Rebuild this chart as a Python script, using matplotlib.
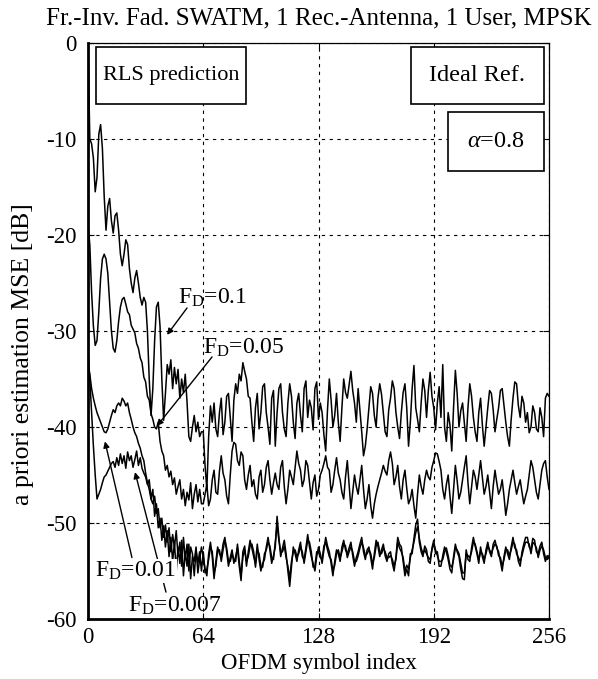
import numpy as np
import matplotlib
matplotlib.use("Agg")
import matplotlib.pyplot as plt
from matplotlib.patches import Rectangle

plt.rcParams['font.family'] = ['Liberation Serif', 'DejaVu Serif']
plt.rcParams['mathtext.fontset'] = 'custom'
plt.rcParams['mathtext.rm'] = 'Liberation Serif'
plt.rcParams['mathtext.it'] = 'Liberation Serif:italic'
plt.rcParams['axes.unicode_minus'] = False

# ---------------- data ----------------
x_early = np.arange(0, 64)          # symbols 0..63
x_late = np.arange(64, 257)         # symbols 64..256

fd01_early = [0, -10, -10.5, -12, -15.5, -14, -9.5, -8.5, -11, -16,
              -19.5, -17, -16.2, -18.5, -19.8, -18, -17.7, -19.5, -22, -23.2,
              -22, -20.5, -21, -23.5, -25, -26, -24.5, -23.7, -25, -26.5,
              -27.3, -26.5, -27, -30, -35, -38.8, -36, -31, -27.5, -27,
              -29.5, -35, -39.3, -36.5, -33.5, -34.5, -33, -36, -33.8, -35.5,
              -34, -37, -35, -36.4, -34.5, -37.4, -41, -41.5, -40, -38.8,
              -40.5, -39.5, -41, -40.5]
fd01_late = [-40.5, -44, -46.5, -41, -37.8, -39.5, -37.5, -40.2, -41, -38.5,
             -37, -40.8, -39.5, -36.8, -36.5, -39, -41.5, -37.2, -35.5, -36.5,
             -34.5, -35.2, -33.3, -34.2, -35, -36.8, -37, -39.5, -41.5, -38,
             -36.5, -40.2, -38.5, -35.8, -35.5, -38.5, -40, -41.8, -37, -36.2,
             -42, -38.5, -36, -35.5, -38.5, -40.2, -41, -37.5, -35.5, -36.8,
             -39.5, -41.2, -37.5, -36.5, -38.8, -40.5, -36, -35.2, -39, -37.2,
             -38, -40.3, -36, -35.3, -39.2, -37.5, -38.5, -40.8, -42.5, -38.2,
             -35, -37.2, -40, -38.8, -36.5, -39.5, -41.5, -38, -35, -36.4,
             -37, -35.6, -34.2, -36.2, -37.5, -39.5, -36, -38.2, -40.5, -43,
             -42, -40.2, -38, -35.8, -36.5, -38.8, -40, -37, -35.5, -36.6,
             -38.5, -40.5, -41, -38.2, -37, -35.2, -36, -38.5, -40, -41.2,
             -38.5, -36.4, -35.5, -38, -42, -39.5, -36, -33.6, -38, -39.2,
             -40.5, -37.5, -35, -36.2, -39, -36.2, -34.3, -36.8, -38, -40.3,
             -37.5, -35.8, -39, -33.5, -40, -41.5, -38.5, -39.8, -42.5, -38,
             -34.1, -36.5, -40, -38.3, -37.5, -39.6, -41.5, -38, -35.5, -36.8,
             -39, -40.5, -41.5, -38.5, -37, -39.8, -42, -40, -38, -36.2,
             -36.5, -38.2, -40.5, -39.2, -38, -36.2, -36, -37.8, -39.5, -41,
             -42, -39.2, -37, -35.3, -35.5, -37.8, -39, -36.8, -37.5, -39.5,
             -38.5, -40.6, -40, -37.8, -38.5, -40.2, -40.5, -38, -39, -41,
             -37, -36.5, -36.8]

fd005_early = [-19, -21, -26, -29.5, -31.5, -31, -28, -24.5, -22.5, -22,
               -22.5, -24, -27, -30, -31.8, -32.2, -31, -29, -27.5, -26.7,
               -26.5, -27.2, -28, -28.3, -29.4, -29.8, -30.2, -31.3, -31.8, -32.8,
               -33.3, -34.8, -35.3, -36.8, -37.2, -38.6, -39.2, -40, -40.2, -39.5,
               -41.5, -42.5, -43, -44.5, -44, -45.2, -44.6, -46, -45.3, -47,
               -46.2, -45.5, -47.5, -46.5, -48.2, -46.8, -47.6, -45.8, -48.5, -47,
               -46, -47.8, -46.5, -48]
fd005_late = [-48, -47, -46, -48.2, -47.5, -45.5, -44.5, -46.8, -47, -44.6,
              -43, -44.8, -45.5, -47.2, -48, -45, -42.5, -41.6, -41.8, -43.5,
              -44, -42.6, -43, -45.5, -46.5, -45, -44, -46.2, -45.5, -47,
              -47.5, -45.2, -44.5, -46.8, -46, -44.2, -43.5, -45.5, -47, -45.8,
              -44.8, -46, -46.5, -44.2, -43.5, -46.2, -48, -46.5, -44.5, -45.2,
              -46, -44.2, -42.5, -43.8, -44.5, -46.2, -45.5, -43.5, -44, -45.8,
              -47.5, -45.8, -45, -47.2, -46.5, -45, -44.5, -43.8, -43, -44.2,
              -44.5, -46.8, -46, -44.5, -43.2, -44.8, -45.5, -46.8, -47.5, -45.2,
              -43.5, -46, -48.5, -46.8, -45, -46.2, -47, -45.5, -44, -46.5,
              -48.5, -47.5, -46, -48.2, -49.5, -48, -47, -46.2, -45.5, -44.8,
              -44, -44.6, -45, -43.5, -42.6, -43.8, -46, -45.2, -44, -46.2,
              -47.5, -45.5, -44.5, -46.4, -48, -47.5, -46.5, -48.2, -49.5, -47,
              -45, -46.2, -47, -45.5, -44.5, -45.2, -45.5, -44.2, -43.5, -42.7,
              -42.8, -43.6, -44.5, -46.5, -47.5, -46, -45, -47.2, -49, -46.5,
              -44, -45.6, -47.5, -46.8, -45.5, -44.2, -43, -45.8, -48, -46.2,
              -44.5, -45.2, -46.5, -45, -43.5, -45.2, -47, -46.2, -45, -46.8,
              -48.5, -46.2, -44.5, -45.8, -47, -46.5, -45.5, -47.2, -49.2, -48,
              -46.5, -45.5, -44.5, -45.8, -47, -46.2, -45.5, -46.8, -48, -47.2,
              -46.5, -45, -43.5, -44.2, -45.5, -46.8, -47.5, -46, -44.5, -43.8,
              -43.5, -45.2, -46.5]

fd001_early = [-33.5, -34.5, -36, -37, -37.8, -38.5, -39, -39.5, -40, -40.5,
               -40.6, -40.2, -39.5, -38.8, -38.2, -38.5, -37.8, -37.5, -37.8, -37,
               -37.3, -37.8, -37.5, -38.5, -39.2, -40, -40.6, -41, -41.7, -42.2,
               -43, -43.5, -44.8, -45.8, -46.5, -47.5, -48, -47.2, -49, -48.5,
               -50.5, -49.5, -51.5, -50.2, -52, -50.5, -53, -51.2, -52.5, -50.8,
               -53.5, -52, -54.5, -51.5, -53.8, -52.2, -55, -52.5, -53.2, -55.5,
               -52.8, -54.2, -53, -55]
fd001_late = [-53, -55.2, -54.8, -53.8, -52.5, -53, -55.2, -54.5, -52.8, -52.8,
              -54, -52.8, -51.8, -52.6, -54, -54, -53.2, -53.8, -54, -52.2,
              -54, -55.5, -53.5, -52.8, -54, -53.5, -52.4, -52.2, -53, -54.6,
              -52.8, -53.2, -54.5, -54.6, -53.2, -52.8, -52, -52.4, -53.6, -53.8,
              -52, -50.2, -51.8, -53, -53, -52.4, -53.6, -54.5, -55.8, -54,
              -53, -52.8, -53.5, -53.2, -52.5, -53, -54.2, -53, -51.8, -52,
              -53, -54.6, -54.5, -53, -53, -53.6, -53.8, -52.4, -52, -52.8,
              -53.5, -53.8, -55, -54.4, -53.2, -52.8, -53.6, -53, -52.2, -52.4,
              -53.6, -53, -52.5, -53, -54, -54, -53.4, -52.6, -52, -52.6,
              -53.4, -53.2, -52.8, -53.2, -54.2, -53.6, -52.4, -52, -53, -53.2,
              -52.6, -53, -53.6, -53.6, -53.4, -53.8, -54.5, -53.8, -52, -52.6,
              -53, -53.6, -55, -54.4, -54.8, -53.6, -52.8, -52, -51, -50.4,
              -51.6, -52.6, -53.2, -52.8, -53.2, -53.6, -53.8, -52.8, -52.2, -52.8,
              -53.4, -54, -54, -53.8, -53, -52.6, -53.4, -54.4, -54.6, -53.8,
              -52.6, -52.8, -53.2, -54.2, -55.2, -55.2, -53.2, -53.4, -53.6, -53,
              -52, -52.2, -53, -53.8, -53, -53.2, -53.8, -53.2, -52.4, -52.8,
              -53.2, -52.6, -52.2, -52.4, -53.4, -53.6, -54.5, -53.8, -52.8, -52.8,
              -53.4, -52.8, -52, -52.2, -53.2, -53.6, -54, -53.4, -52.6, -52,
              -52, -52.2, -53.2, -52, -52.2, -52.6, -53.6, -52.8, -52.4, -52.8,
              -53.6, -53.8, -53.4]

fd0007_early = [-32, -35, -38.5, -42, -45, -47.5, -47, -46.5, -45.8, -45.2,
                -45, -44.6, -44.2, -43.8, -43.6, -44.2, -43.2, -44, -42.8, -43.8,
                -43, -44.3, -42.6, -43.5, -43, -44.2, -43.4, -42.5, -44, -43.2,
                -44.3, -44.8, -45.2, -46, -45.5, -47.5, -46.5, -49.3, -48, -50.5,
                -49.5, -51.8, -50.3, -52.5, -50.8, -53.5, -51.5, -54, -52, -55,
                -52.5, -54.2, -51.8, -55.5, -53, -54.5, -52.2, -55.8, -53.5, -54,
                -52.5, -55.2, -53.8, -52.5]
fd0007_late = [-53.5, -54.8, -55.5, -53.2, -52, -53.5, -55.8, -54, -52.5, -53.2,
               -53.5, -52.2, -51.5, -53, -54.5, -53.6, -52.8, -54.2, -53.5, -52.6,
               -54.5, -56, -53, -52.4, -54.5, -53, -51.8, -52.6, -53.5, -54.2,
               -52.2, -53.8, -55, -54.2, -53.8, -52.5, -51.5, -52.8, -54.2, -53.4,
               -52.5, -49.3, -51.5, -53.5, -52.6, -51.8, -53.2, -55, -56.6, -54.5,
               -52.5, -53.2, -54, -52.8, -52, -53.5, -53.8, -52.6, -51.2, -52.5,
               -53.5, -54.2, -55, -53.5, -52.5, -53.2, -54.2, -52.8, -51.5, -52.4,
               -53, -54.2, -55.5, -54, -52.8, -53.2, -54, -52.5, -51.8, -52.8,
               -53.2, -52.6, -52, -53.4, -54.5, -53.6, -53, -52.2, -51.5, -53,
               -53.8, -52.8, -52.5, -53.6, -54.8, -53.2, -51.8, -52.4, -53.5, -52.8,
               -52.2, -53.4, -54, -53.2, -53, -54.2, -55, -53.5, -51.5, -52.2,
               -52.5, -54, -55.5, -54.8, -55.5, -53.2, -53.2, -51.6, -50.2, -49.6,
               -52, -53, -53.5, -52.4, -52.8, -54, -54.2, -52.6, -51.8, -53.2,
               -53, -54.5, -54.5, -53.4, -52.5, -53, -53.8, -54.8, -55.2, -53.5,
               -52.2, -53, -53.5, -54.8, -55.8, -55.9, -52.8, -53.8, -54, -52.6,
               -51.5, -52.4, -53.2, -54.2, -52.5, -53.5, -54.2, -52.8, -52, -53,
               -53.5, -52.2, -51.8, -52.6, -53, -54, -55, -53.5, -52.5, -53.2,
               -53.8, -52.5, -51.5, -52.6, -52.8, -54, -54.5, -53, -52.2, -51.5,
               -51.5, -52.5, -52.8, -51.6, -51.8, -53, -53.2, -52.4, -52, -53.2,
               -54, -53.4, -53.7]

series = [
    (fd01_early, fd01_late),
    (fd005_early, fd005_late),
    (fd001_early, fd001_late),
    (fd0007_early, fd0007_late),
]

x_ticks = [0, 64, 128, 192, 256]
y_ticks = [-60, -50, -40, -30, -20, -10, 0]
y_ticklabels = ['-60', '-50', '-40', '-30', '-20', '-10', '0']

# ---------------- figure ----------------
fig = plt.figure(figsize=(5.98, 6.79), dpi=100)
ax = fig.add_axes([88 / 598, 1 - 619 / 679, (549 - 88) / 598, (619 - 43) / 679])

x_all = np.concatenate([x_early, x_late])
for early, late in series:
    y_all = np.concatenate([np.asarray(early, float), np.asarray(late, float)])
    ax.plot(x_all, y_all, color='black', lw=1.1, zorder=3)

ax.set_xlim(0, 256)
ax.set_ylim(-60, 0)
ax.set_xticks(x_ticks)
ax.set_xticklabels([str(t) for t in x_ticks])
ax.set_yticks(y_ticks)
ax.set_yticklabels(y_ticklabels)
ax.tick_params(axis='both', which='both', direction='in', length=4, width=0.8,
               labelsize=16.5, top=True, right=True)
ax.tick_params(axis='y', pad=8)
ax.tick_params(axis='x', pad=6)

ax.grid(True, color='black', linestyle=(0, (3, 4)), linewidth=0.8)
ax.set_axisbelow(True)

for side in ['left', 'bottom']:
    ax.spines[side].set_linewidth(2.0)
for side in ['top', 'right']:
    ax.spines[side].set_linewidth(0.9)

ax.set_xlabel('OFDM symbol index', fontsize=16.5, labelpad=3)
ax.set_ylabel('a priori estimation MSE [dB]', fontsize=18.5)
ax.yaxis.set_label_coords(-0.118, 0.46)
ax.set_title('Fr.-Inv. Fad. SWATM, 1 Rec.-Antenna, 1 User, MPSK', fontsize=18, pad=13)

# boxes
def box(x0, x1, y0, y1, text, fs):
    r = Rectangle((x0, y0), x1 - x0, y1 - y0, facecolor='white', edgecolor='black',
                  lw=1.2, zorder=4)
    ax.add_patch(r)
    ax.text((x0 + x1) / 2, (y0 + y1) / 2, text, ha='center', va='center',
            fontsize=fs, zorder=5)

box(4.4, 87.8, -6.4, -0.4, 'RLS prediction', 16)
box(179.5, 253.0, -6.4, -0.4, 'Ideal Ref.', 17.5)
box(200.0, 253.0, -13.3, -7.2, r'$\alpha$=0.8', 17.5)

# labels with leaders
arrow_kw = dict(arrowstyle='-|>', color='black', lw=1.0, mutation_scale=9,
                shrinkA=0, shrinkB=0)

ax.text(50, -27.2, r'F$_{\mathrm{D}}$=0.1', fontsize=17, va='baseline', ha='left', zorder=6)
ax.annotate('', xy=(43.9, -30.4), xytext=(55.0, -27.6), arrowprops=arrow_kw, zorder=6)

ax.text(63.9, -32.4, r'F$_{\mathrm{D}}$=0.05', fontsize=17, va='baseline', ha='left', zorder=6)
ax.annotate('', xy=(38.3, -39.9), xytext=(68.9, -32.7), arrowprops=arrow_kw, zorder=6)

ax.annotate('', xy=(26.1, -44.7), xytext=(43.3, -57.2), arrowprops=arrow_kw, zorder=5)
ax.annotate('', xy=(9.4, -41.5), xytext=(24.4, -53.6), arrowprops=arrow_kw, zorder=5)

ax.text(3.9, -55.6, r'F$_{\mathrm{D}}$=0.01', fontsize=17, va='baseline', ha='left', zorder=7,
        bbox=dict(facecolor='white', edgecolor='none', pad=0.5))
ax.text(22.2, -59.2, r'F$_{\mathrm{D}}$=0.007', fontsize=17, va='baseline', ha='left', zorder=7)

fig.savefig('out.png', dpi=100)
